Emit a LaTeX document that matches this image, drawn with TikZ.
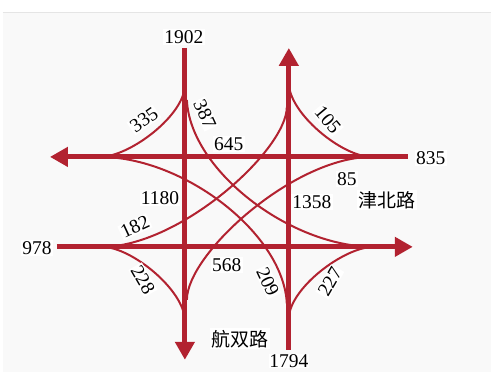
\documentclass[tikz,border=0pt]{standalone}
\usepackage{fontspec}
\setmainfont{Liberation Serif}
\newfontfamily\cjk{Noto Sans CJK SC}
\usetikzlibrary{arrows.meta}
\definecolor{road}{RGB}{178,34,48}
\definecolor{bg}{RGB}{249,249,249}
\begin{document}
\begin{tikzpicture}[x=1pt,y=-1pt,
  mainroad/.style={road,line width=5pt},
  turn/.style={road,line width=2pt},
  tipped/.style={-{Triangle[length=18pt,width=19pt]}},
  lbl/.style={fill=white,inner sep=1.2pt,font=\fontsize{19.5}{19.5}\selectfont},
  cn/.style={fill=white,inner sep=1.5pt,font=\cjk\fontsize{19}{19}\selectfont}
]
\fill[white] (0,0) rectangle (491,372);
\fill[bg] (3,12) rectangle (491,372);
\draw[black!10,line width=0.6pt] (3,12) -- (491,12);
\useasboundingbox (0,0) rectangle (491,372);

% road ends
\coordinate (Ntop) at (185,48);
\coordinate (Sarr) at (185,360);
\coordinate (Sbot) at (289,350);
\coordinate (Narr) at (289,48);
\coordinate (Eend) at (408,157);
\coordinate (Warr) at (50,157);
\coordinate (Wend) at (57,247);
\coordinate (Earr) at (413,247);

% merge points
\coordinate (a1) at (185,85);
\coordinate (a2) at (187,100);
\coordinate (b1) at (289,83);
\coordinate (b2) at (287,107);
\coordinate (l1) at (100,157);
\coordinate (r1) at (372,157);
\coordinate (l2) at (102,247);
\coordinate (r2) at (374,247);
\coordinate (d1) at (187,300);
\coordinate (d2) at (185,321);
\coordinate (e1) at (287,304);
\coordinate (e2) at (289,319);

% turning movements
\draw[turn] (a1) .. controls (185,115) and (130,157) .. (l1);
\draw[turn] (a2) .. controls (190,170) and (290,247) .. (r2);
\draw[turn] (b1) .. controls (289,113) and (342,157) .. (r1);
\draw[turn] (l2) .. controls (180,247) and (287,150) .. (b2);
\draw[turn] (r1) .. controls (294,157) and (187,254) .. (d1);
\draw[turn] (e1) .. controls (284,234) and (184,157) .. (l1);
\draw[turn] (l2) .. controls (132,247) and (185,291) .. (d2);
\draw[turn] (e2) .. controls (289,289) and (344,247) .. (r2);

% main roads
\draw[mainroad,tipped] (Ntop) -- (Sarr);
\draw[mainroad,tipped] (Sbot) -- (Narr);
\draw[mainroad,tipped] (Eend) -- (Warr);
\draw[mainroad,tipped] (Wend) -- (Earr);

% labels
\node[lbl] (n1902) at (184,37) {1902};
\node[lbl] (n835) at (431,158) {835};
\node[lbl] (n978) at (37,248) {978};
\node[lbl,inner sep=0.5pt] (n1794) at (289,361) {1794};
\node[lbl,rotate=35] (n335) at (144,120) {335};
\node[lbl,rotate=-65] (n387) at (205,114) {387};
\node[lbl] (n645) at (229,144) {645};
\node[lbl,rotate=-50] (n105) at (328,120) {105};
\node[lbl] (n85) at (347,179) {85};
\node[lbl] (n1180) at (160,198) {1180};
\node[lbl] (n1358) at (312,202) {1358};
\node[cn] (jb) at (387,200) {津北路};
\node[lbl,rotate=25] (n182) at (135,227) {182};
\node[lbl,rotate=-60] (n228) at (143,280) {228};
\node[lbl] (n568) at (227,265) {568};
\node[lbl,rotate=-65] (n209) at (268,282) {209};
\node[lbl,rotate=60] (n227) at (330,282) {227};
\node[cn] (hs) at (240,339) {航双路};
\end{tikzpicture}
\end{document}
